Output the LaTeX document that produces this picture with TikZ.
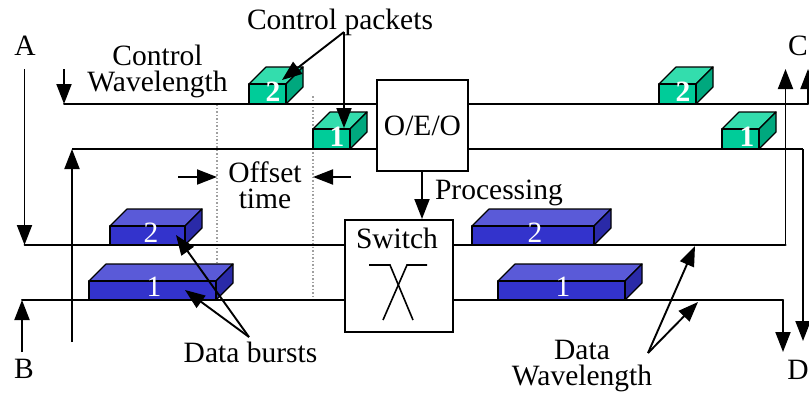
\documentclass[tikz,border=0pt]{standalone}
\usepackage{fontspec}
\setmainfont{Liberation Serif}
\usetikzlibrary{arrows.meta}
\definecolor{gf}{HTML}{00CC99}\definecolor{gt}{HTML}{33DDAD}\definecolor{gs}{HTML}{00A87E}
\definecolor{bf}{HTML}{3333CC}\definecolor{bt}{HTML}{5A5AD8}\definecolor{bs}{HTML}{2A2AA8}
\tikzset{
 lbl/.style={font=\fontsize{29.5}{29.5}\selectfont,inner sep=0pt,align=center},
 wire/.style={line width=2pt,line cap=round},
 wireb/.style={line width=2.4pt},
 arr/.style={line width=1.9pt,-{Triangle[length=20pt,width=15pt]}},
 dots/.style={dotted,line width=1.5pt,gray!75},
 boxn/.style={draw,line width=1.7pt,fill=white,inner sep=0pt,align=center,font=\fontsize{29.5}{29.5}\selectfont},
 pk/.style={line width=1.2pt,line join=round},
 numw/.style={font=\fontsize{29.5}{29.5}\selectfont,text=white,inner sep=0pt,anchor=base},
 numg/.style={numw,font=\fontsize{29.5}{29.5}\selectfont\bfseries}
}
\newcommand{\cube}[8]{%
 \filldraw[pk,fill=#6] (#1,#2-#4) -- ++(#5,-#5) -- ++(#3,0) -- ++(-#5,#5) -- cycle;
 \filldraw[pk,fill=#7] (#1+#3,#2) -- (#1+#3,#2-#4) -- ++(#5,-#5) -- ++(0,#4) -- cycle;
 \filldraw[pk,fill=#8] (#1,#2) rectangle ++(#3,-#4);
}
\begin{document}
\begin{tikzpicture}[x=1pt,y=-1pt]
\useasboundingbox (0,0) rectangle (809,394);
\coordinate (d1t) at (217,104); \coordinate (d1b) at (217,262);
\coordinate (d2t) at (313,96); \coordinate (d2b) at (313,300);
\draw[dots] (d1t)--(d1b);
\draw[dots] (d2t)--(d2b);
\coordinate (cw1l) at (64,104); \coordinate (cw1r) at (808,104);
\coordinate (cw2l) at (72,149); \coordinate (cw2r) at (803,149);
\coordinate (dw2l) at (24.5,245); \coordinate (dw2r) at (785.5,245);
\coordinate (dw1l) at (22,300); \coordinate (dw1r) at (783,300);
\draw[wire] (cw1l)--(cw1r);
\draw[wireb] (cw2l)--(cw2r);
\draw[wire] (dw2l)--(dw2r);
\draw[wire] (dw1l)--(dw1r);
\coordinate (as) at (24.5,69); \coordinate (bs) at (22,352);
\coordinate (cs) at (64,69); \coordinate (es) at (72,342);
\coordinate (ct1) at (785.5,69); \coordinate (ct2) at (808,69);
\coordinate (dt1) at (783,352); \coordinate (dt2) at (803,341);
\draw[arr] (as)--(dw2l);
\draw[arr] (bs)--(dw1l);
\draw[arr] (cs)--(cw1l);
\draw[arr] (es)--(cw2l);
\draw[arr] (dw2r)--(ct1);
\draw[arr] (cw1r)--(ct2);
\draw[arr] (dw1r)--(dt1);
\draw[arr] (cw2r)--(dt2);
\cube{249}{104}{37}{20}{17}{gt}{gs}{gf}
\cube{313}{149}{37}{20}{17}{gt}{gs}{gf}
\cube{659}{104}{37}{20}{17}{gt}{gs}{gf}
\cube{722}{149}{37}{20}{17}{gt}{gs}{gf}
\cube{110}{245}{75}{19}{17}{bt}{bs}{bf}
\cube{89}{300}{127}{19}{17}{bt}{bs}{bf}
\cube{472}{245}{122}{19}{17}{bt}{bs}{bf}
\cube{498}{300}{127}{19}{17}{bt}{bs}{bf}
\node[numg] (n1) at (273,101) {2};
\node[numg] (n2) at (337,146) {1};
\node[numg] (n3) at (683,101) {2};
\node[numg] (n4) at (747,146) {1};
\node[numw] (n5) at (151,242) {2};
\node[numw] (n6) at (154,296) {1};
\node[numw] (n7) at (535,242) {2};
\node[numw] (n8) at (563,296) {1};
\node[boxn,minimum width=91pt,minimum height=91pt] (oeo) at (422.5,125.5) {O/E/O};
\node[boxn,minimum width=108pt,minimum height=112pt,anchor=north west] (sw) at (344,219) {};
\node[lbl,anchor=base] (swl) at (397,248) {Switch};
\coordinate (x1) at (369,265); \coordinate (x2) at (390,265); \coordinate (x3) at (413,320);
\coordinate (x4) at (427,265); \coordinate (x5) at (407,265); \coordinate (x6) at (383,320);
\draw[line width=1.6pt] (x1)--(x2)--(x3);
\draw[line width=1.6pt] (x4)--(x5)--(x6);
\draw[arr] (oeo.south -| 422,171)--(sw.north -| 422,219);
\node[lbl,anchor=base] (cp) at (340,29) {Control packets};
\node[lbl,anchor=base] (a) at (25,55) {A};
\node[lbl,anchor=base] (c) at (798,55) {C};
\node[lbl,anchor=base] (b) at (24,378) {B};
\node[lbl,anchor=base] (d) at (798,379) {D};
\node[lbl,anchor=base] (cw) at (157.5,65) {Control};
\node[lbl,anchor=base] (cw') at (157.5,91) {Wavelength};
\node[lbl,anchor=base] (ot) at (265,182) {Offset};
\node[lbl,anchor=base] (ot') at (265,208) {time};
\node[lbl,anchor=base] (pr) at (499,199) {Processing};
\node[lbl,anchor=base] (db) at (250.5,362) {Data bursts};
\node[lbl,anchor=base] (dw) at (582,359) {Data};
\node[lbl,anchor=base] (dw') at (582,385) {Wavelength};
\coordinate (cpf) at (344,32);
\draw[arr] (cpf)--(282,80);
\draw[arr] (cpf)--(344,128);
\coordinate (dbf) at (249,337);
\draw[arr] (dbf)--(176,235);
\draw[arr] (dbf)--(185,290);
\coordinate (dwf) at (648,353);
\draw[arr] (dwf)--(695,246);
\draw[arr] (dwf)--(698,302);
\coordinate (ol) at (178,177); \coordinate (or) at (351,177);
\coordinate (olt) at (217,177); \coordinate (ort) at (313,177);
\draw[arr] (ol)--(olt);
\draw[arr] (or)--(ort);
\end{tikzpicture}
\end{document}
